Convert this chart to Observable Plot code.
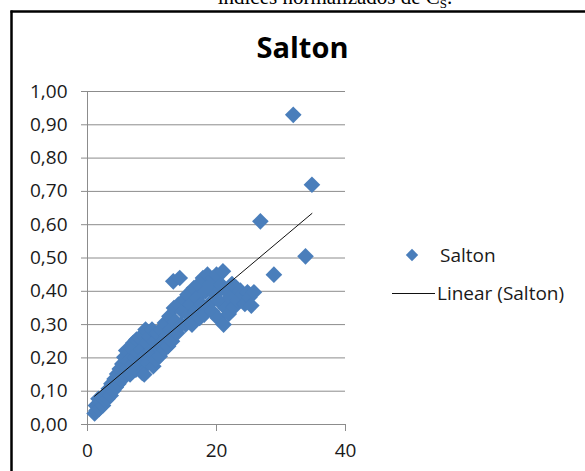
<!DOCTYPE html>
<html>
<head>
<meta charset="utf-8">
<script src="https://cdn.jsdelivr.net/npm/d3@7"></script>
<script src="https://cdn.jsdelivr.net/npm/@observablehq/plot@0.6"></script>
<style>
  html, body { margin: 0; padding: 0; background: #fff; overflow: hidden; }
  #chart svg { display: block; }
</style>
</head>
<body>
<div id="chart"></div>
<script>
// ---- data ----
const captionText = "índices normalizados de C";
const captionSub = "S";
const titleText = "Salton";
const seriesName = "Salton";
const trendName = "Linear (Salton)";
const xTicks = [0, 20, 40];
const yTicks = [0, 0.1, 0.2, 0.3, 0.4, 0.5, 0.6, 0.7, 0.8, 0.9, 1.0];

const xs = [
  1.1, 1.4, 1.3, 1.8, 2.0, 1.7, 2.4, 2.3, 2.7, 2.9,
  3.1, 3.3, 3.6, 3.7, 4.0, 4.2, 4.4, 4.6, 4.8, 5.0,
  5.2, 5.4, 5.5, 5.7, 5.9, 6.0, 6.2, 6.4, 6.6, 6.8,
  7.0, 7.1, 7.3, 7.5, 7.6, 7.8, 8.0, 8.1, 8.3, 8.5,
  8.6, 8.8, 8.9, 9.0, 9.2, 9.4, 9.6, 9.8, 10.0, 10.2,
  10.4, 10.6, 10.8, 11.0, 11.2, 11.4, 11.6, 11.9, 12.0, 12.3,
  12.5, 12.7, 12.9, 13.1, 13.3, 13.4, 13.6, 13.9, 14.1, 14.3,
  14.5, 14.7, 15.0, 15.2, 15.5, 15.7, 16.0, 16.2, 16.5, 16.7,
  17.0, 17.2, 17.4, 17.7, 17.9, 18.1, 18.3, 18.6, 18.8, 19.0,
  19.3, 19.5, 19.8, 20.0, 20.2, 20.4, 20.7, 21.0, 21.1, 21.4,
  21.6, 21.9, 22.1, 22.4, 22.7, 23.0, 23.3, 23.7, 24.1, 24.4,
  24.8, 25.1, 25.4, 25.8, 26.8, 28.9, 31.9, 33.8, 34.8
];
const ys = [
  0.033, 0.042, 0.057, 0.047, 0.067, 0.077, 0.057, 0.082, 0.072, 0.092,
  0.077, 0.107, 0.087, 0.122, 0.102, 0.137, 0.112, 0.152, 0.122, 0.167,
  0.132, 0.182, 0.147, 0.202, 0.157, 0.222, 0.17, 0.19, 0.15, 0.23,
  0.18, 0.245, 0.20, 0.165, 0.255, 0.215, 0.185, 0.26, 0.225, 0.155,
  0.27, 0.15, 0.205, 0.285, 0.245, 0.185, 0.265, 0.22, 0.285, 0.175,
  0.25, 0.195, 0.275, 0.23, 0.205, 0.285, 0.25, 0.225, 0.305, 0.265,
  0.235, 0.325, 0.285, 0.25, 0.43, 0.35, 0.31, 0.275, 0.36, 0.44,
  0.30, 0.34, 0.375, 0.30, 0.39, 0.33, 0.36, 0.30, 0.41, 0.34,
  0.38, 0.42, 0.32, 0.36, 0.44, 0.33, 0.40, 0.45, 0.36, 0.42,
  0.34, 0.44, 0.39, 0.45, 0.32, 0.37, 0.42, 0.46, 0.30, 0.35,
  0.40, 0.332, 0.382, 0.422, 0.352, 0.412, 0.372, 0.402, 0.392, 0.362,
  0.397, 0.382, 0.357, 0.397, 0.61, 0.45, 0.93, 0.505, 0.72
];

const data = xs.map((x, i) => ({x, y: ys[i]}));

// ---- styles ----
const W = 585, H = 471;
const dotColor = "#4A7EBB";
const gridColor = "#8C8C8C";
const fmt = d => d.toFixed(2).replace(".", ",");
const font = "'Open Sans', sans-serif";

const plot = Plot.plot({
  width: W,
  height: H,
  marginLeft: 87,
  marginRight: 240,
  marginTop: 91,
  marginBottom: 47,
  style: {fontFamily: font, fontSize: "19px", color: "#1a1a1a", background: "#fff"},
  x: {domain: [0, 40]},
  y: {domain: [0, 1]},
  marks: [
    Plot.gridY(yTicks, {stroke: gridColor, strokeOpacity: 1, strokeWidth: 1}),
    Plot.ruleX([0], {stroke: gridColor, strokeWidth: 1}),
    Plot.ruleY([0], {stroke: gridColor, strokeWidth: 1}),
    Plot.axisY(yTicks, {tickFormat: fmt, tickSize: 6, tickPadding: 14, stroke: gridColor, fill: "#1a1a1a", label: null, fontSize: 19}),
    Plot.axisX(xTicks, {tickFormat: d => String(d), tickSize: 7, tickPadding: 12, stroke: gridColor, fill: "#1a1a1a", label: null, fontSize: 19}),
    Plot.dot(data, {x: "x", y: "y", symbol: "diamond2", r: 7.5, fill: dotColor, stroke: "none"}),
    Plot.linearRegressionY(data, {x: "x", y: "y", stroke: "#111", strokeWidth: 1, ci: 0})
  ]
});

const svg = d3.select(plot);

// Chart frame (extends past the right and bottom edges in the reference)
svg.append("line").attr("x1", 11.5).attr("x2", 11.5).attr("y1", 10.5).attr("y2", H + 5)
  .attr("stroke", "#000").attr("stroke-width", 2.5);
svg.append("line").attr("x1", 10.5).attr("x2", W + 5).attr("y1", 11.5).attr("y2", 11.5)
  .attr("stroke", "#000").attr("stroke-width", 2.5);

// Caption (cut off at top, as in the reference)
const cap = svg.append("text")
  .attr("x", 335).attr("y", 3.5)
  .attr("text-anchor", "middle")
  .attr("font-family", "'Liberation Serif', serif")
  .attr("font-size", 21)
  .attr("fill", "#000");
cap.append("tspan").text(captionText);
cap.append("tspan").attr("font-size", 13).attr("dy", 4).text(captionSub);
cap.append("tspan").attr("dy", -4).text(".");

// Title
svg.append("text")
  .attr("x", 302.5).attr("y", 57.5)
  .attr("text-anchor", "middle")
  .attr("font-family", font)
  .attr("font-weight", "bold")
  .attr("font-size", 29)
  .attr("fill", "#000")
  .text(titleText);

// Legend
const lg = svg.append("g").attr("text-anchor", "start");
lg.append("path")
  .attr("d", d3.symbol(d3.symbolDiamond2, Math.pow(6.2 / 0.62625, 2))())
  .attr("transform", "translate(412,255)")
  .attr("fill", dotColor);
lg.append("text").attr("x", 440).attr("y", 255).attr("dy", "0.35em").attr("text-anchor", "start")
  .attr("font-family", font).attr("font-size", 19).attr("fill", "#1a1a1a").text(seriesName);
lg.append("line").attr("x1", 392).attr("x2", 435).attr("y1", 293.5).attr("y2", 293.5)
  .attr("stroke", "#111").attr("stroke-width", 1);
lg.append("text").attr("x", 437).attr("y", 293.5).attr("dy", "0.35em").attr("text-anchor", "start")
  .attr("font-family", font).attr("font-size", 19).attr("fill", "#1a1a1a").text(trendName);

document.getElementById("chart").appendChild(plot);
</script>
</body>
</html>
